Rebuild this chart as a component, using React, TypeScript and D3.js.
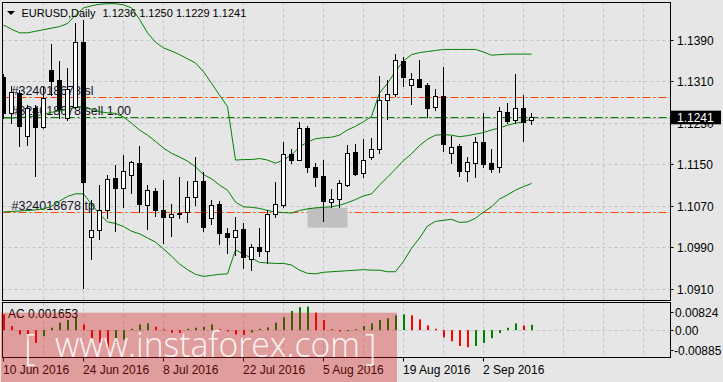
import React from "react";
import * as d3 from "d3";

// ---------- data ----------
const symbolLabel = "EURUSD,Daily";
const headerOHLC = ["1.1236", "1.1250", "1.1229", "1.1241"];
const xLabels = ["10 Jun 2016", "24 Jun 2016", "8 Jul 2016", "22 Jul 2016", "5 Aug 2016", "19 Aug 2016", "2 Sep 2016"];
const xLabelBars = [0, 10, 20, 30, 40, 50, 60];
const priceTicks = [1.091, 1.099, 1.107, 1.115, 1.123, 1.131, 1.139];

const open = [1.1319,1.1249,1.1288,1.1205,1.1259,1.1223,1.1333,1.1314,1.1240,1.1262,
1.1386,1.1011,1.1024,1.1063,1.1124,1.1105,1.1130,1.1153,1.1073,1.1100,
1.1062,1.1050,1.1058,1.1059,1.1088,1.1119,1.1048,1.1075,1.1019,1.1010,
1.1026,1.0969,1.0991,1.0983,1.1056,1.1072,1.1170,1.1160,1.1220,1.1145,
1.1128,1.1078,1.1085,1.1111,1.1174,1.1135,1.1165,1.1181,1.1274,1.1287,
1.1350,1.1304,1.1316,1.1303,1.1262,1.1282,1.1173,1.1186,1.1138,1.1154,
1.1193,1.1154,1.1145,1.1251,1.1236,1.1259,1.1236];
const high = [1.1324,1.1301,1.1294,1.1265,1.1265,1.1299,1.1382,1.1350,1.1336,1.1422,
1.1428,1.1082,1.1111,1.1130,1.1149,1.1168,1.1158,1.1186,1.1111,1.1106,
1.1121,1.1074,1.1126,1.1119,1.1165,1.1136,1.1083,1.1081,1.1029,1.1050,
1.1037,1.0998,1.1028,1.1062,1.1116,1.1193,1.1181,1.1233,1.1225,1.1153,
1.1159,1.1103,1.1121,1.1188,1.1189,1.1200,1.1202,1.1320,1.1313,1.1363,
1.1358,1.1327,1.1352,1.1307,1.1295,1.1339,1.1205,1.1189,1.1164,1.1203,
1.1250,1.1180,1.1262,1.1269,1.1324,1.1284,1.1250];
const low = [1.1240,1.1231,1.1186,1.1188,1.1129,1.1220,1.1284,1.1240,1.1236,1.1259,
1.0912,1.0969,1.1008,1.1048,1.1023,1.1069,1.1096,1.1059,1.1027,1.1051,
1.1000,1.1013,1.1048,1.1040,1.1073,1.1023,1.1036,1.0998,1.0980,1.0977,
1.0951,1.0947,1.0975,1.0960,1.1049,1.1069,1.1153,1.1159,1.1137,1.1109,
1.1042,1.1068,1.1068,1.1109,1.1130,1.1126,1.1162,1.1173,1.1238,1.1282,
1.1301,1.1267,1.1299,1.1241,1.1255,1.1177,1.1154,1.1128,1.1119,1.1126,
1.1145,1.1137,1.1137,1.1230,1.1230,1.1196,1.1229];
const close = [1.1249,1.1290,1.1225,1.1259,1.1223,1.1278,1.1311,1.1257,1.1295,1.1386,
1.1117,1.1024,1.1063,1.1122,1.1106,1.1138,1.1155,1.1075,1.1101,1.1062,
1.1050,1.1056,1.1055,1.1087,1.1118,1.1031,1.1073,1.1018,1.1011,1.1024,
1.0973,1.0991,1.0983,1.1055,1.1075,1.1170,1.1160,1.1220,1.1145,1.1126,
1.1080,1.1085,1.1114,1.1172,1.1132,1.1159,1.1180,1.1274,1.1286,1.1352,
1.1319,1.1316,1.1300,1.1260,1.1282,1.1189,1.1184,1.1138,1.1155,1.1193,
1.1151,1.1142,1.1253,1.1235,1.1259,1.1233,1.1241];

const upperBand = [1.1419,1.1411,1.1404,1.1404,1.1407,1.1410,1.1413,1.1416,1.1422,1.1438,
1.1452,1.1456,1.1459,1.1460,1.1460,1.1458,1.1452,1.1430,1.1404,1.1386,
1.1375,1.1369,1.1362,1.1354,1.1346,1.1329,1.1307,1.1284,1.1262,1.1159,
1.1160,1.1160,1.1162,1.1159,1.1153,1.1159,1.1169,1.1184,1.1194,1.1200,
1.1202,1.1203,1.1207,1.1217,1.1224,1.1233,1.1243,1.1288,1.1307,1.1330,
1.1350,1.1362,1.1366,1.1368,1.1370,1.1372,1.1372,1.1372,1.1372,1.1372,
1.1367,1.1361,1.1362,1.1363,1.1363,1.1363,1.1363];
const middleBand = [1.1240,1.1240,1.1241,1.1242,1.1244,1.1247,1.1251,1.1254,1.1257,1.1260,
1.1263,1.1257,1.1252,1.1250,1.1249,1.1242,1.1230,1.1217,1.1207,1.1195,
1.1182,1.1172,1.1165,1.1157,1.1146,1.1131,1.1123,1.1111,1.1101,1.1078,
1.1069,1.1068,1.1066,1.1062,1.1059,1.1058,1.1057,1.1062,1.1065,1.1067,
1.1068,1.1069,1.1072,1.1077,1.1083,1.1090,1.1094,1.1111,1.1126,1.1142,
1.1158,1.1171,1.1187,1.1199,1.1207,1.1208,1.1207,1.1204,1.1206,1.1209,
1.1212,1.1217,1.1221,1.1226,1.1230,1.1233,1.1238];
const lowerBand = [1.1059,1.1060,1.1061,1.1062,1.1063,1.1065,1.1070,1.1080,1.1089,1.1094,
1.1094,1.1074,1.1055,1.1040,1.1037,1.1031,1.1022,1.1017,1.1009,1.1001,
1.0988,1.0974,1.0959,1.0948,1.0939,1.0935,1.0937,1.0939,1.0940,1.0986,
1.0978,1.0970,1.0962,1.0961,1.0960,1.0960,1.0957,1.0947,1.0941,1.0940,
1.0943,1.0944,1.0945,1.0946,1.0947,1.0948,1.0947,1.0947,1.0944,1.0944,
1.0964,1.0989,1.1009,1.1032,1.1041,1.1043,1.1045,1.1039,1.1040,1.1047,
1.1059,1.1069,1.1084,1.1092,1.1101,1.1108,1.1114];

const acPrev = 0.0055;
const acValues = [0.00491,0.00125,-0.00136,-0.0030,-0.00397,-0.00188,0.00073,0.00230,0.00314,0.00418,
0.00178,-0.00272,-0.00397,-0.00658,-0.00397,-0.00293,0.00042,0.00178,0.00209,0.00105,
0.00021,-0.00084,-0.0009,0.00042,0.00073,0.00105,0.00178,0.00031,-0.00042,-0.00136,
-0.0015,-0.00073,0.00042,0.00084,0.00230,0.00397,0.00596,0.00711,0.00732,0.00543,
0.00314,0.00031,-0.00042,-0.00031,0.00031,0.00125,0.00209,0.00314,0.00366,0.00460,
0.00491,0.00460,0.00334,0.00146,0.00042,-0.00230,-0.00345,-0.00491,-0.00533,-0.00491,
-0.00397,-0.00251,-0.00094,0.00073,0.00209,0.00146,0.001653];
const acMax = 0.00824;
const acMin = -0.00885;
const acTickValues = [0.00824, 0, -0.00885];
const acTickLabels = ["0.00824", "0.00", "-0.00885"];
const acLabel = "AC 0.001653";

const orderTicket = "#324018678";
const slPrice = 1.128;
const tpPrice = 1.1058;
const sellPrice = 1.1241;
const bidPrice = 1.1241;
const bidLabel = "1.1241";
const boxBar = 40;
const boxPriceTop = 1.1067;
const boxPriceBottom = 1.1029;

// ---------- layout ----------
const W = 723, H = 382;
const L = 2.5, R = 670.5, T = 2.5, B = 300.5;
const IT = 302.5, IB = 357.5;
const FONT = "'Liberation Sans', Arial, sans-serif";
const WM_FONT = "'Open Sans', 'Liberation Sans', sans-serif";
const BG = "#e6e6e6";
const GRID = "#c4c4c4";

export default function App() {
  const x = d3.scaleLinear().domain([0, 66]).range([3.5, 531.5]);
  const y = d3.scaleLinear().domain([1.091, 1.139]).range([289.4, 40.1]);
  const ya = d3.scaleLinear().domain([acMin, acMax]).range([358.6, 303.6]);
  const snap = (v: number) => Math.floor(v) + 0.5;

  const line = d3.line<number>().x((_, i) => x(i)).y((d) => y(d));
  const vgrid = d3.range(1, 17).map((k) => 3.5 + 40 * k);
  const ax0 = snap(ya(0));

  return (
    <svg width={W} height={H} style={{ position: "fixed", left: 0, top: 0, display: "block" }} fontFamily={FONT}>
      <defs>
        <clipPath id="mainClip"><rect x={L} y={T} width={R - L} height={B - T} /></clipPath>
        <clipPath id="indClip"><rect x={L} y={IT} width={R - L} height={IB - IT} /></clipPath>
      </defs>
      <rect x={0} y={0} width={W} height={H} fill={BG} />

      {/* main panel */}
      <g clipPath="url(#mainClip)">
        {priceTicks.map((p) => (
          <line key={"h" + p} x1={L} x2={R} y1={snap(y(p))} y2={snap(y(p))} stroke={GRID} strokeDasharray="3,3" />
        ))}
        {vgrid.map((gx) => (
          <line key={"v" + gx} x1={gx} x2={gx} y1={T} y2={B} stroke={GRID} strokeDasharray="3,3" />
        ))}
        <line x1={L} x2={R} y1={snap(y(bidPrice)) + 1} y2={snap(y(bidPrice)) + 1} stroke="#c8c8c8" />
        <line x1={L} x2={R} y1={snap(y(slPrice))} y2={snap(y(slPrice))} stroke="#ff4500" strokeDasharray="8,3,2,3" />
        <line x1={L} x2={R} y1={snap(y(sellPrice))} y2={snap(y(sellPrice))} stroke="#008000" strokeDasharray="8,3,2,3" />
        <line x1={L} x2={R} y1={snap(y(tpPrice))} y2={snap(y(tpPrice))} stroke="#ff4500" strokeDasharray="8,3,2,3" />
        <rect x={x(boxBar) - 16} y={y(boxPriceTop)} width={40} height={y(boxPriceBottom) - y(boxPriceTop)} fill="#c0c0c0" />

        <text x={11.5} y={94.5} fontSize={12.5} fill="#141428">{orderTicket} sl</text>
        <text x={11.5} y={114.5} fontSize={12.5} fill="#141428">{orderTicket} sell 1.00</text>
        <text x={11.5} y={209.5} fontSize={12.5} fill="#141428">{orderTicket} tp</text>

        <path d={line(upperBand) || ""} fill="none" stroke="#008000" strokeWidth={1} />
        <path d={line(middleBand) || ""} fill="none" stroke="#008000" strokeWidth={1} />
        <path d={line(lowerBand) || ""} fill="none" stroke="#008000" strokeWidth={1} />

        {open.map((o, i) => {
          const c = close[i];
          const cx = x(i);
          const up = c > o;
          const top = Math.round(y(Math.max(o, c))) + 0.5;
          const bot = Math.round(y(Math.min(o, c))) + 0.5;
          return (
            <g key={"c" + i}>
              <line x1={cx} x2={cx} y1={Math.round(y(high[i]))} y2={Math.round(y(low[i])) + 1} stroke="#000" />
              <rect x={cx - 2} y={top} width={4} height={Math.max(bot - top, 1)} fill={up ? "#fff" : "#000"} stroke="#000" />
            </g>
          );
        })}

        <path d="M7,11 L15,11 L11,15 Z" fill="#000" />
        <text x={21.5} y={16.5} fontSize={11} fill="#000">{symbolLabel}</text>
        <text x={102.5} y={16.5} fontSize={11} fill="#000">{headerOHLC.join(" ")}</text>
      </g>

      {/* indicator panel */}
      <g clipPath="url(#indClip)">
        <line x1={L} x2={R} y1={ax0} y2={ax0} stroke={GRID} strokeDasharray="3,3" />
        {vgrid.map((gx) => (
          <line key={"iv" + gx} x1={gx} x2={gx} y1={IT} y2={IB} stroke={GRID} strokeDasharray="3,3" />
        ))}
        {acValues.map((v, i) => {
          const prev = i === 0 ? acPrev : acValues[i - 1];
          const col = v > prev ? "#008000" : "#ff0000";
          const y0 = ya(0), y1 = ya(v);
          return (
            <rect key={"a" + i} x={x(i) - 0.5} y={Math.min(y0, y1)} width={2} height={Math.max(Math.abs(y1 - y0), 1)} fill={col} />
          );
        })}
        <text x={8} y={318} fontSize={12} fill="#000">{acLabel}</text>
      </g>

      {/* borders */}
      <rect x={L} y={T} width={R - L} height={B - T} fill="none" stroke="#000" />
      <rect x={L} y={IT} width={R - L} height={IB - IT} fill="none" stroke="#000" />

      {/* price axis */}
      {priceTicks.map((p) => (
        <g key={"pt" + p}>
          <line x1={R} x2={R + 3} y1={snap(y(p))} y2={snap(y(p))} stroke="#000" />
          <text x={677} y={y(p) + 4.5} fontSize={12} fill="#000">{p.toFixed(4)}</text>
        </g>
      ))}
      <rect x={671} y={y(bidPrice) - 6.8} width={50} height={13.6} fill="#000" />
      <text x={677} y={y(bidPrice) + 4.5} fontSize={12} fill="#fff">{bidLabel}</text>

      {/* AC axis */}
      {acTickValues.map((v, i) => {
        const ty = i === 0 ? 312.5 : i === 2 ? 350 : ya(v);
        return (
          <g key={"at" + i}>
            <line x1={R} x2={R + 3} y1={snap(ty)} y2={snap(ty)} stroke="#000" />
            <text x={i === 2 ? 674 : 675} y={ty + 4.5} fontSize={12} fill="#000">{acTickLabels[i]}</text>
          </g>
        );
      })}

      {/* time axis */}
      {xLabelBars.map((b, i) => (
        <g key={"xt" + b}>
          <line x1={x(b)} x2={x(b)} y1={IB} y2={IB + 4} stroke="#000" />
          <text x={x(b) - 0.5} y={373.5} fontSize={12} fill="#000">{xLabels[i]}</text>
        </g>
      ))}

      {/* watermark */}
      <rect x={1} y={312.7} width={396} height={H - 312.7} fill="rgba(210,20,20,0.35)" />
      <g fontFamily={WM_FONT} fill="#fff" fillOpacity={0.9} fontWeight={300}>
        <text x={24} y={360} fontSize={36}>[</text>
        <text x={55} y={357} fontSize={34} textLength={305} lengthAdjust="spacingAndGlyphs">www.instaforex.com</text>
        <text x={365} y={360} fontSize={36}>]</text>
      </g>
    </svg>
  );
}
